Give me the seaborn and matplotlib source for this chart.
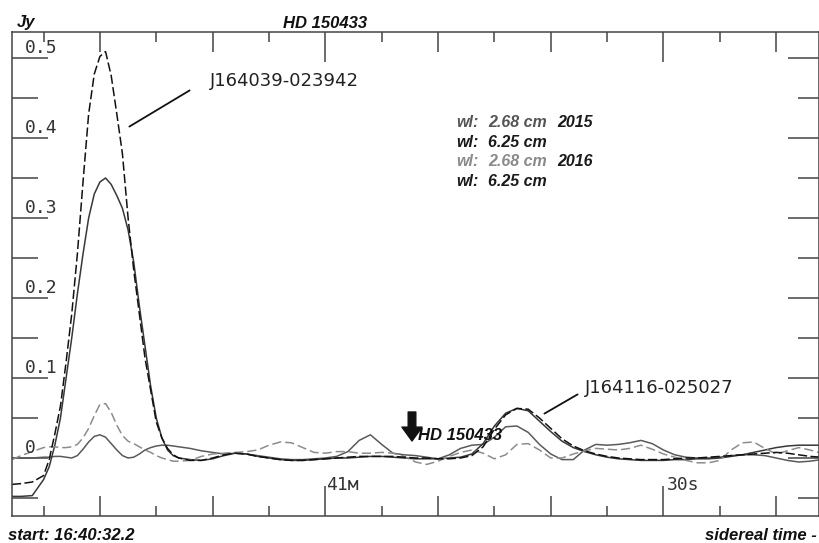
import numpy as np
import pandas as pd
import matplotlib
matplotlib.use("Agg")
import matplotlib.pyplot as plt
import seaborn as sns

# ---------------- data (seconds after 16:40:00 sidereal, flux in Jy) ----------------
sec = [32.2, 33, 34,
       35, 35.5, 36, 36.5, 37, 37.5, 38, 38.5, 39, 39.5, 40, 40.5, 41, 41.5,
       42, 42.5, 43, 43.5, 44, 44.5, 45, 45.5, 46, 46.5, 47,
       48, 49, 50, 51, 52, 53, 54, 55, 56, 57, 58, 59, 60, 61, 62, 63, 64, 65,
       66, 67, 68, 69, 70, 71, 72, 73, 74, 75, 76, 77, 78, 79, 80, 81, 82, 83,
       84, 85, 86, 87, 88, 89, 90, 91, 92, 93, 94, 95, 96, 97, 98, 99, 100,
       101, 102, 103, 104]

# wl 6.25 cm, 2016 (dashed black)
flux_625_2016 = [-0.033, -0.032, -0.030,
                 -0.022, -0.002, 0.030, 0.065, 0.120, 0.180, 0.255, 0.345, 0.430, 0.480,
                 0.502, 0.508, 0.478, 0.430, 0.380, 0.300, 0.235, 0.180, 0.125, 0.085,
                 0.045, 0.025, 0.012, 0.004, 0.000,
                 -0.003, -0.003, 0.000, 0.004, 0.006, 0.005, 0.002, 0.000, -0.002, -0.003,
                 -0.003, -0.002, -0.001, 0.000, 0.001, 0.002, 0.002, 0.002, 0.002, 0.001,
                 0.000, 0.000, -0.001, -0.001, 0.000, 0.003, 0.014, 0.036, 0.054, 0.062,
                 0.061, 0.050, 0.037, 0.024, 0.015, 0.009, 0.005, 0.002, 0.000, -0.001,
                 -0.002, -0.002, -0.002, -0.001, 0.000, 0.000, 0.001, 0.002, 0.003, 0.004,
                 0.005, 0.006, 0.007, 0.006, 0.004, 0.002, 0.001]

# wl 6.25 cm, 2015 (solid dark)
flux_625_2015 = [-0.048, -0.048, -0.047,
                 -0.027, -0.011, 0.016, 0.050, 0.100, 0.150, 0.205, 0.255, 0.300, 0.330,
                 0.345, 0.350, 0.342, 0.328, 0.312, 0.285, 0.245, 0.190, 0.140, 0.090,
                 0.050, 0.025, 0.010, 0.003, 0.000,
                 -0.002, -0.003, -0.001, 0.003, 0.006, 0.005, 0.002, 0.000, -0.002, -0.003,
                 -0.003, -0.002, -0.001, 0.000, 0.000, 0.001, 0.002, 0.002, 0.001, 0.000,
                 -0.001, -0.001, -0.001, 0.000, 0.001, 0.005, 0.018, 0.040, 0.056, 0.062,
                 0.059, 0.046, 0.033, 0.021, 0.013, 0.008, 0.004, 0.001, -0.001, -0.002,
                 -0.003, -0.003, -0.003, -0.002, -0.002, -0.001, -0.001, 0.000, 0.002, 0.004,
                 0.007, 0.010, 0.013, 0.015, 0.016, 0.016, 0.016]

# wl 2.68 cm, 2016 (dashed gray)
flux_268_2016 = [-0.002, 0.003, 0.008,
                 0.013, 0.014, 0.014, 0.013, 0.013, 0.014, 0.017, 0.025, 0.037, 0.053,
                 0.067, 0.068, 0.057, 0.041, 0.028, 0.021, 0.018, 0.014, 0.010, 0.007,
                 0.003, 0.000, -0.002, -0.004, -0.004,
                 -0.003, 0.002, 0.005, 0.006, 0.007, 0.008, 0.010, 0.016, 0.020, 0.019,
                 0.013, 0.007, 0.006, 0.008, 0.008, 0.006, 0.006, 0.007, 0.006, 0.002,
                 -0.005, -0.008, -0.004, 0.002, 0.007, 0.010, 0.006, -0.001, 0.004, 0.017,
                 0.018, 0.010, 0.000, 0.000, 0.005, 0.009, 0.012, 0.011, 0.010, 0.012,
                 0.016, 0.011, 0.005, 0.001, -0.003, -0.006, -0.006, -0.003, 0.010, 0.019,
                 0.020, 0.012, 0.005, 0.009, 0.013, 0.010, 0.006]

# wl 2.68 cm, 2015 (solid gray)
flux_268_2015 = [0.000, 0.000, 0.000,
                 0.001, 0.001, 0.002, 0.002, 0.001, 0.000, 0.003, 0.011, 0.020, 0.027,
                 0.029, 0.026, 0.018, 0.010, 0.003, 0.000, 0.001, 0.005, 0.010, 0.013,
                 0.015, 0.016, 0.016, 0.015, 0.014,
                 0.012, 0.009, 0.007, 0.005, 0.006, 0.005, 0.003, 0.001, -0.001, -0.002,
                 -0.002, -0.001, 0.000, 0.002, 0.008, 0.022, 0.029, 0.017, 0.006, 0.004,
                 0.003, 0.001, -0.001, 0.004, 0.012, 0.016, 0.017, 0.026, 0.039, 0.040,
                 0.032, 0.017, 0.005, -0.002, -0.002, 0.010, 0.017, 0.016, 0.017, 0.019,
                 0.022, 0.018, 0.010, 0.004, 0.001, 0.000, 0.000, 0.001, 0.003, 0.004,
                 0.004, 0.003, 0.000, -0.003, -0.005, -0.004, -0.002]

series_names = ["2.68 cm 2015", "6.25 cm 2015", "2.68 cm 2016", "6.25 cm 2016"]
y_major = [0.0, 0.1, 0.2, 0.3, 0.4, 0.5]
y_labels = ["0", "0.1", "0.2", "0.3", "0.4", "0.5"]
y_minor = [-0.05, 0.05, 0.15, 0.25, 0.35, 0.45]
x_ticks = [35, 40, 45, 50, 55, 60, 65, 70, 75, 80, 85, 90, 95, 100]
x_labels = {60: "41м", 90: "30s"}

df = pd.concat([
    pd.DataFrame({"sec": sec, "Jy": flux_268_2015, "series": series_names[0]}),
    pd.DataFrame({"sec": sec, "Jy": flux_625_2015, "series": series_names[1]}),
    pd.DataFrame({"sec": sec, "Jy": flux_268_2016, "series": series_names[2]}),
    pd.DataFrame({"sec": sec, "Jy": flux_625_2016, "series": series_names[3]}),
], ignore_index=True)

# ---------------- style ----------------
sns.set_style("white")
plt.rcParams["font.family"] = ["DejaVu Sans"]

W, H = 819, 543
fig = plt.figure(figsize=(W / 100, H / 100), dpi=100)
ax = fig.add_axes([12 / W, 27 / H, 807 / W, 484 / H])

palette = {series_names[0]: "#5a5a5a", series_names[1]: "#383838",
           series_names[2]: "#8c8c8c", series_names[3]: "#111111"}
dashes = {series_names[0]: "", series_names[1]: "",
          series_names[2]: (6, 2.6), series_names[3]: (6, 2.2)}
sns.lineplot(data=df, x="sec", y="Jy", hue="series", style="series",
             palette=palette, dashes=dashes, linewidth=1.1, legend=False,
             sort=False, ax=ax)

ax.set_xlim(32.2, 103.8)
ax.set_ylim(-0.0725, 0.5325)
ax.set_xlabel("")
ax.set_ylabel("")

edge = "#444444"
for s in ax.spines.values():
    s.set_visible(True)
    s.set_color(edge)
    s.set_linewidth(1.1)

ax.set_xticks(x_ticks)
ax.set_yticks(sorted(y_major + y_minor))
ax.tick_params(axis="both", direction="in", top=True, right=True, bottom=True, left=True,
               labelleft=False, labelbottom=False, color=edge, width=1.1)

px = 0.72
fig.canvas.draw()
for t, v in zip(ax.xaxis.get_major_ticks(), x_ticks):
    if v in (60, 90):
        L = 30
    elif v % 10 == 0:
        L = 20
    else:
        L = 10
    t.tick1line.set_markersize(L * px)
    t.tick2line.set_markersize(L * px)
for t, v in zip(ax.yaxis.get_major_ticks(), sorted(y_major + y_minor)):
    major = abs(round(v * 10) - v * 10) < 1e-6
    t.tick1line.set_markersize((36 if major else 26) * px)
    t.tick2line.set_markersize((31 if major else 21) * px)

def ftxt(x, y, s, **kw):
    fig.text(x / W, 1 - y / H, s, **kw)

mono = dict(family="DejaVu Sans Mono", fontsize=13, color="#333333", va="baseline")
for v, lab in zip(y_major, y_labels):
    ypix = 458 - v * 800
    ftxt(25, ypix - 5, lab, **mono)
ftxt(326, 490, x_labels[60], **mono)
ftxt(667, 490, x_labels[90], **mono)

bi = dict(family=["Liberation Sans", "DejaVu Sans"], fontweight="bold", style="italic",
          fontsize=12, va="baseline")
ftxt(17, 27, "Jy", color="#111111", **bi)
ftxt(325, 28, "HD 150433", color="#111111", ha="center", **bi)
ftxt(8, 540, "start: 16:40:32.2", color="#111111", **bi)
ftxt(817, 540, "sidereal time -", color="#111111", ha="right", **bi)

# legend-like text block
leg = dict(family=["Liberation Sans", "DejaVu Sans"], fontweight="bold", style="italic",
           fontsize=11.5, va="baseline")
rows = [(127, "#555555", "2.68 cm", "2015"),
        (147, "#1a1a1a", "6.25 cm", None),
        (166, "#8a8a8a", "2.68 cm", "2016"),
        (186, "#1a1a1a", "6.25 cm", None)]
for yb, col, wl, yr in rows:
    ftxt(456, yb, "wl:", color=col, **leg)
    ftxt(488, yb, wl, color=col, **leg)
    if yr:
        ftxt(557, yb, yr, color="#1a1a1a", **leg)

# source labels
ftxt(210, 86, "J164039-023942", family="DejaVu Sans", fontsize=13, color="#222222", va="baseline")
ftxt(585, 393, "J164116-025027", family="DejaVu Sans", fontsize=13, color="#222222", va="baseline")
ax.annotate("", xy=(127, H - 128), xycoords="figure pixels",
            xytext=(192, H - 89), textcoords="figure pixels",
            arrowprops=dict(arrowstyle="-", lw=1.3, color="#111111"))
ax.annotate("", xy=(542, H - 415), xycoords="figure pixels",
            xytext=(580, H - 393), textcoords="figure pixels",
            arrowprops=dict(arrowstyle="-", lw=1.3, color="#111111"))

# HD 150433 position arrow
ax.annotate("", xy=(412, H - 441), xycoords="figure pixels",
            xytext=(412, H - 412), textcoords="figure pixels",
            arrowprops=dict(width=5.5, headwidth=14.5, headlength=10, shrink=0,
                            facecolor="#111111", edgecolor="#111111"))
ftxt(418, 440, "HD 150433", color="#111111", **bi)

fig.savefig("out.png", dpi=100)
